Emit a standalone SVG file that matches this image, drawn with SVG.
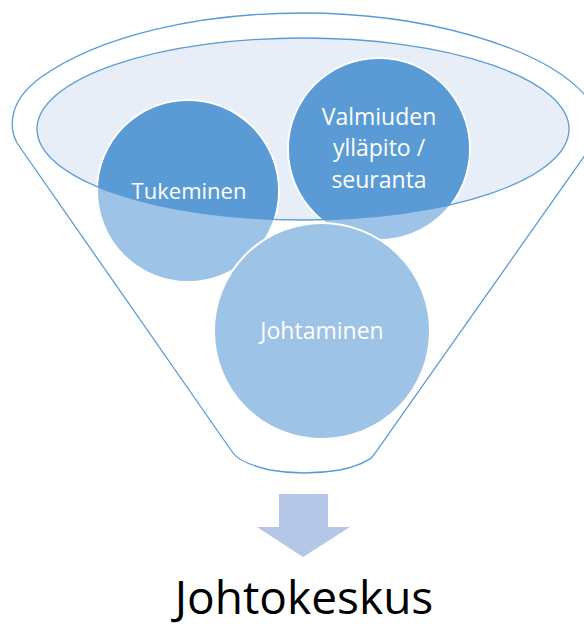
<svg xmlns="http://www.w3.org/2000/svg" width="584" height="626" viewBox="0 0 584 626">
<style>
.ln{fill:none;stroke:#5B9BD5;stroke-width:1.3}
.lt{fill:#9DC3E6;stroke:#fff;stroke-width:2}
.dk{fill:#5B9BD5}
.tx{font-family:"Open Sans","Liberation Sans",sans-serif;fill:#fff;text-anchor:middle}
</style>
<defs>
<clipPath id="inEl"><ellipse cx="303" cy="129" rx="266" ry="91"/></clipPath>
</defs>
<rect width="584" height="626" fill="#fff"/>
<g id="funnel">
<path class="ln" d="M17,143 C8,125 10,100 40,78 C100,35 200,13 303,13 C420,13 540,45 585,95 M17,143 L233,453 Q240,463 270,470 Q303,476 340,470 Q366,464 373,456 L590,148"/>
<ellipse cx="303" cy="129" rx="266" ry="91" fill="#E7EEF8"/>
</g>
<g id="tukeminen">
<circle class="lt" cx="188" cy="191" r="91"/>
<circle class="dk" cx="188" cy="191" r="90" clip-path="url(#inEl)"/>
</g>
<g id="valmiuden">
<circle class="lt" cx="379" cy="149" r="91"/>
<circle class="dk" cx="379" cy="149" r="90" clip-path="url(#inEl)"/>
</g>
<g id="johtaminen">
<circle class="lt" cx="322" cy="331" r="108"/>
</g>
<g id="rim">
<ellipse class="ln" cx="303" cy="129" rx="266" ry="91"/>
</g>
<g id="labels">
<text class="tx" x="189" y="199" font-size="22">Tukeminen</text>
<text class="tx" x="379" y="125" font-size="23">Valmiuden</text>
<text class="tx" x="379" y="156" font-size="23">ylläpito /</text>
<text class="tx" x="379" y="188" font-size="23">seuranta</text>
<text class="tx" x="322" y="339" font-size="23">Johtaminen</text>
</g>
<g id="connectors">
<polygon points="279,494 328,494 328,527 350,527 303,557 257,527 279,527" fill="#B4C7E7"/>
</g>
<g id="result">
<text x="304" y="614" font-family="'Open Sans','Liberation Sans',sans-serif" font-size="46" text-anchor="middle" fill="#000">Johtokeskus</text>
</g>
</svg>
